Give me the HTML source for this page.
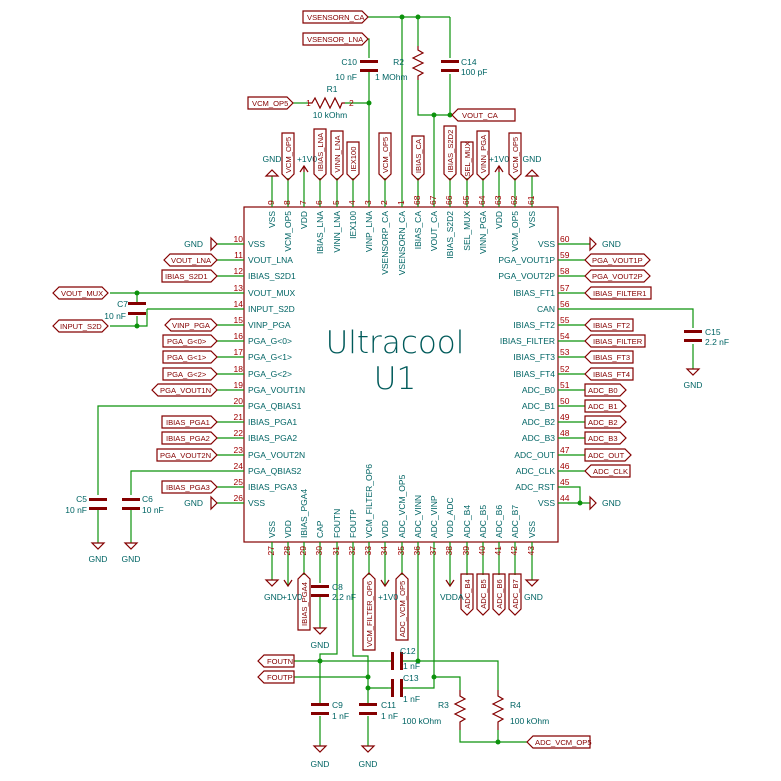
<!DOCTYPE html>
<html><head><meta charset="utf-8"><style>
html,body{margin:0;padding:0;background:#fff}
svg{display:block}
.w{stroke:#0c920c;stroke-width:1.2;fill:none}
.b{stroke:#840000;stroke-width:1.2;fill:none}
.f{fill:#840000}
text{font-family:"Liberation Sans",sans-serif;font-size:8.5px}
.t{fill:#006464}
.n{fill:#a00000}
.l{fill:#840000}
.l text,text.l{font-size:7.6px}
.j{fill:#0c920c}
</style></head><body>
<svg width="781" height="781" viewBox="0 0 781 781" xmlns="http://www.w3.org/2000/svg">
<rect x="0" y="0" width="781" height="781" fill="#fff"/>
<rect x="244" y="207" width="314" height="335" class="b"/>
<text x="395" y="353" text-anchor="middle" style="font-family:'DejaVu Sans',sans-serif;font-weight:200;font-size:31px;fill:#005a5a">Ultracool</text>
<text x="395" y="389" text-anchor="middle" style="font-family:'DejaVu Sans',sans-serif;font-weight:200;font-size:31px;fill:#005a5a">U1</text>

<g class="w">
<line x1="217" y1="244" x2="244" y2="244"/><line x1="217" y1="260" x2="244" y2="260"/><line x1="217" y1="276" x2="244" y2="276"/>
<line x1="110" y1="293" x2="244" y2="293"/><line x1="147" y1="309" x2="244" y2="309"/><line x1="217" y1="325" x2="244" y2="325"/>
<line x1="217" y1="341" x2="244" y2="341"/><line x1="217" y1="357" x2="244" y2="357"/><line x1="217" y1="374" x2="244" y2="374"/>
<line x1="217" y1="390" x2="244" y2="390"/><line x1="217" y1="422" x2="244" y2="422"/><line x1="217" y1="438" x2="244" y2="438"/>
<line x1="217" y1="455" x2="244" y2="455"/><line x1="217" y1="487" x2="244" y2="487"/><line x1="217" y1="503" x2="244" y2="503"/>
<polyline points="244,406 98,406 98,495"/><polyline points="244,471 131,471 131,495"/>
<polyline points="147,309 147,326 110,326"/>
<line x1="137" y1="293" x2="137" y2="303"/><line x1="137" y1="316" x2="137" y2="326"/>
<line x1="98" y1="510" x2="98" y2="543"/><line x1="131" y1="510" x2="131" y2="543"/>
</g>
<g class="n" text-anchor="end">
<text x="243" y="242">10</text><text x="243" y="258">11</text><text x="243" y="274">12</text><text x="243" y="291">13</text><text x="243" y="307">14</text><text x="243" y="323">15</text><text x="243" y="339">16</text><text x="243" y="355">17</text><text x="243" y="372">18</text><text x="243" y="388">19</text><text x="243" y="404">20</text><text x="243" y="420">21</text><text x="243" y="436">22</text><text x="243" y="453">23</text><text x="243" y="469">24</text><text x="243" y="485">25</text><text x="243" y="501">26</text>
</g>
<g class="t">
<text x="248" y="247">VSS</text><text x="248" y="263">VOUT_LNA</text><text x="248" y="279">IBIAS_S2D1</text><text x="248" y="296">VOUT_MUX</text><text x="248" y="312">INPUT_S2D</text><text x="248" y="328">VINP_PGA</text><text x="248" y="344">PGA_G&lt;0&gt;</text><text x="248" y="360">PGA_G&lt;1&gt;</text><text x="248" y="377">PGA_G&lt;2&gt;</text><text x="248" y="393">PGA_VOUT1N</text><text x="248" y="409">PGA_QBIAS1</text><text x="248" y="425">IBIAS_PGA1</text><text x="248" y="441">IBIAS_PGA2</text><text x="248" y="458">PGA_VOUT2N</text><text x="248" y="474">PGA_QBIAS2</text><text x="248" y="490">IBIAS_PGA3</text><text x="248" y="506">VSS</text>
</g>
<g class="b">
<polygon points="217,244 211,238 211,250"/><polygon points="217,503 211,497 211,509"/>
<polygon points="164,260 170,254 211,254 217,260 211,266 170,266"/>
<polygon points="162,270 211,270 217,276 211,282 162,282"/>
<polygon points="53,293 59,287 102,287 108,293 102,299 59,299"/>
<polygon points="53,326 59,320 102,320 108,326 102,332 59,332"/>
<polygon points="165,325 171,319 211,319 217,325 211,331 171,331"/>
<polygon points="163,335 211,335 217,341 211,347 163,347"/>
<polygon points="163,351 211,351 217,357 211,363 163,363"/>
<polygon points="163,368 211,368 217,374 211,380 163,380"/>
<polygon points="152,390 158,384 211,384 217,390 211,396 158,396"/>
<polygon points="162,416 211,416 217,422 211,428 162,428"/>
<polygon points="162,432 211,432 217,438 211,444 162,444"/>
<polygon points="157,449 211,449 217,455 211,461 157,461"/>
<polygon points="162,481 211,481 217,487 211,493 162,493"/>
</g>
<g class="l">
<text x="171" y="263">VOUT_LNA</text><text x="165" y="279">IBIAS_S2D1</text><text x="61" y="296">VOUT_MUX</text><text x="60" y="329">INPUT_S2D</text>
<text x="172" y="328">VINP_PGA</text><text x="167" y="344">PGA_G&lt;0&gt;</text><text x="167" y="360">PGA_G&lt;1&gt;</text><text x="167" y="377">PGA_G&lt;2&gt;</text>
<text x="160" y="393">PGA_VOUT1N</text><text x="166" y="425">IBIAS_PGA1</text><text x="166" y="441">IBIAS_PGA2</text><text x="160" y="458">PGA_VOUT2N</text><text x="166" y="490">IBIAS_PGA3</text>
</g>
<g class="t" text-anchor="end"><text x="203" y="247">GND</text><text x="203" y="506">GND</text></g>
<rect x="128" y="302" width="18" height="3" class="f"/><rect x="128" y="312" width="18" height="3" class="f"/>
<text x="128" y="307" class="t" text-anchor="end">C7</text><text x="126" y="319" class="t" text-anchor="end">10 nF</text>
<circle cx="137" cy="293" r="2.5" class="j"/><circle cx="137" cy="326" r="2.5" class="j"/>
<rect x="89" y="498" width="18" height="3" class="f"/><rect x="89" y="507" width="18" height="3" class="f"/>
<rect x="122" y="498" width="18" height="3" class="f"/><rect x="122" y="507" width="18" height="3" class="f"/>
<text x="87" y="502" class="t" text-anchor="end">C5</text><text x="87" y="513" class="t" text-anchor="end">10 nF</text>
<text x="142" y="502" class="t">C6</text><text x="142" y="513" class="t">10 nF</text>
<polygon points="92,543 104,543 98,549" class="b"/><polygon points="125,543 137,543 131,549" class="b"/>
<text x="98" y="562" class="t" text-anchor="middle">GND</text><text x="131" y="562" class="t" text-anchor="middle">GND</text>

<g class="w">
<line x1="558" y1="244" x2="590" y2="244"/><line x1="558" y1="260" x2="585" y2="260"/><line x1="558" y1="276" x2="585" y2="276"/>
<line x1="558" y1="293" x2="585" y2="293"/><polyline points="558,309 693,309 693,328"/><line x1="693" y1="344" x2="693" y2="369"/>
<line x1="558" y1="325" x2="585" y2="325"/><line x1="558" y1="341" x2="585" y2="341"/><line x1="558" y1="357" x2="585" y2="357"/>
<line x1="558" y1="374" x2="585" y2="374"/><line x1="558" y1="390" x2="585" y2="390"/><line x1="558" y1="406" x2="585" y2="406"/>
<line x1="558" y1="422" x2="585" y2="422"/><line x1="558" y1="438" x2="585" y2="438"/><line x1="558" y1="455" x2="585" y2="455"/>
<line x1="558" y1="471" x2="585" y2="471"/><polyline points="558,487 580,487 580,503"/><line x1="558" y1="503" x2="590" y2="503"/>
</g>
<circle cx="580" cy="503" r="2.5" class="j"/>
<g class="n">
<text x="560" y="242">60</text><text x="560" y="258">59</text><text x="560" y="274">58</text><text x="560" y="291">57</text><text x="560" y="307">56</text><text x="560" y="323">55</text><text x="560" y="339">54</text><text x="560" y="355">53</text><text x="560" y="372">52</text><text x="560" y="388">51</text><text x="560" y="404">50</text><text x="560" y="420">49</text><text x="560" y="436">48</text><text x="560" y="453">47</text><text x="560" y="469">46</text><text x="560" y="485">45</text><text x="560" y="501">44</text>
</g>
<g class="t" text-anchor="end">
<text x="555" y="247">VSS</text><text x="555" y="263">PGA_VOUT1P</text><text x="555" y="279">PGA_VOUT2P</text><text x="555" y="296">IBIAS_FT1</text><text x="555" y="312">CAN</text><text x="555" y="328">IBIAS_FT2</text><text x="555" y="344">IBIAS_FILTER</text><text x="555" y="360">IBIAS_FT3</text><text x="555" y="377">IBIAS_FT4</text><text x="555" y="393">ADC_B0</text><text x="555" y="409">ADC_B1</text><text x="555" y="425">ADC_B2</text><text x="555" y="441">ADC_B3</text><text x="555" y="458">ADC_OUT</text><text x="555" y="474">ADC_CLK</text><text x="555" y="490">ADC_RST</text><text x="555" y="506">VSS</text>
</g>
<g class="b">
<polygon points="590,238 596,244 590,250"/><polygon points="590,497 596,503 590,509"/>
<polygon points="585,260 591,254 644,254 650,260 644,266 591,266"/>
<polygon points="585,276 591,270 644,270 650,276 644,282 591,282"/>
<polygon points="585,293 591,287 651,287 651,299 591,299"/>
<polygon points="585,325 591,319 633,319 633,331 591,331"/>
<polygon points="585,341 591,335 645,335 645,347 591,347"/>
<polygon points="585,357 591,351 633,351 633,363 591,363"/>
<polygon points="585,374 591,368 633,368 633,380 591,380"/>
<polygon points="585,384 620,384 626,390 620,396 585,396"/>
<polygon points="585,400 620,400 626,406 620,412 585,412"/>
<polygon points="585,416 620,416 626,422 620,428 585,428"/>
<polygon points="585,432 620,432 626,438 620,444 585,444"/>
<polygon points="585,449 625,449 631,455 625,461 585,461"/>
<polygon points="585,471 591,465 630,465 630,477 591,477"/>
</g>
<g class="l">
<text x="592" y="263">PGA_VOUT1P</text><text x="592" y="279">PGA_VOUT2P</text><text x="593" y="296">IBIAS_FILTER1</text>
<text x="593" y="328">IBIAS_FT2</text><text x="593" y="344">IBIAS_FILTER</text><text x="593" y="360">IBIAS_FT3</text><text x="593" y="377">IBIAS_FT4</text>
<text x="588" y="393">ADC_B0</text><text x="588" y="409">ADC_B1</text><text x="588" y="425">ADC_B2</text><text x="588" y="441">ADC_B3</text><text x="588" y="458">ADC_OUT</text><text x="593" y="474">ADC_CLK</text>
</g>
<g class="t"><text x="602" y="247">GND</text><text x="602" y="506">GND</text></g>
<rect x="684" y="330" width="18" height="3" class="f"/><rect x="684" y="339" width="18" height="3" class="f"/>
<text x="705" y="335" class="t">C15</text><text x="705" y="345" class="t">2.2 nF</text>
<polygon points="687,369 699,369 693,375" class="b"/><text x="693" y="388" class="t" text-anchor="middle">GND</text>

<g class="w">
<line x1="272" y1="176" x2="272" y2="207"/><line x1="288" y1="178" x2="288" y2="207"/><line x1="304" y1="172" x2="304" y2="207"/>
<line x1="320" y1="178" x2="320" y2="207"/><line x1="337" y1="178" x2="337" y2="207"/><line x1="353" y1="178" x2="353" y2="207"/>
<line x1="369" y1="78" x2="369" y2="207"/><line x1="385" y1="178" x2="385" y2="207"/><line x1="402" y1="17" x2="402" y2="207"/>
<line x1="418" y1="178" x2="418" y2="207"/><line x1="434" y1="115" x2="434" y2="207"/><line x1="450" y1="178" x2="450" y2="207"/>
<line x1="467" y1="178" x2="467" y2="207"/><line x1="483" y1="178" x2="483" y2="207"/><line x1="499" y1="172" x2="499" y2="207"/>
<line x1="515" y1="178" x2="515" y2="207"/><line x1="532" y1="176" x2="532" y2="207"/>
</g>
<g class="n">
<text transform="translate(274,205) rotate(-90)">9</text><text transform="translate(290,205) rotate(-90)">8</text><text transform="translate(306,205) rotate(-90)">7</text><text transform="translate(322,205) rotate(-90)">6</text><text transform="translate(339,205) rotate(-90)">5</text><text transform="translate(355,205) rotate(-90)">4</text><text transform="translate(371,205) rotate(-90)">3</text><text transform="translate(387,205) rotate(-90)">2</text><text transform="translate(404,205) rotate(-90)">1</text><text transform="translate(420,205) rotate(-90)">68</text><text transform="translate(436,205) rotate(-90)">67</text><text transform="translate(452,205) rotate(-90)">66</text><text transform="translate(469,205) rotate(-90)">65</text><text transform="translate(485,205) rotate(-90)">64</text><text transform="translate(501,205) rotate(-90)">63</text><text transform="translate(517,205) rotate(-90)">62</text><text transform="translate(534,205) rotate(-90)">61</text>
</g>
<g class="t" text-anchor="end">
<text transform="translate(275,211) rotate(-90)">VSS</text><text transform="translate(291,211) rotate(-90)">VCM_OP5</text><text transform="translate(307,211) rotate(-90)">VDD</text><text transform="translate(323,211) rotate(-90)">IBIAS_LNA</text><text transform="translate(340,211) rotate(-90)">VINN_LNA</text><text transform="translate(356,211) rotate(-90)">IEX100</text><text transform="translate(372,211) rotate(-90)">VINP_LNA</text><text transform="translate(388,211) rotate(-90)">VSENSORP_CA</text><text transform="translate(405,211) rotate(-90)">VSENSORN_CA</text><text transform="translate(421,211) rotate(-90)">IBIAS_CA</text><text transform="translate(437,211) rotate(-90)">VOUT_CA</text><text transform="translate(453,211) rotate(-90)">IBIAS_S2D2</text><text transform="translate(470,211) rotate(-90)">SEL_MUX</text><text transform="translate(486,211) rotate(-90)">VINN_PGA</text><text transform="translate(502,211) rotate(-90)">VDD</text><text transform="translate(518,211) rotate(-90)">VCM_OP5</text><text transform="translate(535,211) rotate(-90)">VSS</text>
</g>
<g class="b">
<polygon points="266,176 278,176 272,170"/><polygon points="526,176 538,176 532,170"/>
<polyline points="300,172 304,166 308,172"/><line x1="304" y1="166" x2="304" y2="172"/>
<polyline points="495,172 499,166 503,172"/><line x1="499" y1="166" x2="499" y2="172"/>
</g>
<g class="t" text-anchor="middle"><text x="272" y="162">GND</text><text x="307" y="162">+1V0</text><text x="499" y="162">+1V0</text><text x="532" y="162">GND</text></g>
<g class="b">
<polygon points="282,133 294,133 294,174 288,180 282,174"/>
<polygon points="314,129 326,129 326,174 320,180 314,174"/>
<polygon points="331,131 343,131 343,174 337,180 331,174"/>
<polygon points="347,142 359,142 359,174 353,180 347,174"/>
<polygon points="379,133 391,133 391,174 385,180 379,174"/>
<polygon points="412,136 424,136 424,174 418,180 412,174"/>
<polygon points="444,126 456,126 456,174 450,180 444,174"/>
<polygon points="461,142 473,142 473,174 467,180 461,174"/>
<polygon points="477,131 489,131 489,174 483,180 477,174"/>
<polygon points="509,133 521,133 521,174 515,180 509,174"/>
</g>
<g class="l" text-anchor="middle">
<text transform="translate(291,155) rotate(-90)">VCM_OP5</text>
<text transform="translate(323,152) rotate(-90)">IBIAS_LNA</text>
<text transform="translate(340,154) rotate(-90)">VINN_LNA</text>
<text transform="translate(356,159) rotate(-90)">IEX100</text>
<text transform="translate(388,155) rotate(-90)">VCM_OP5</text>
<text transform="translate(421,156) rotate(-90)">IBIAS_CA</text>
<text transform="translate(453,151) rotate(-90)">IBIAS_S2D2</text>
<text transform="translate(470,159) rotate(-90)">SEL_MUX</text>
<text transform="translate(486,154) rotate(-90)">VINN_PGA</text>
<text transform="translate(518,155) rotate(-90)">VCM_OP5</text>
</g>

<g class="w">
<line x1="368" y1="17" x2="450" y2="17"/>
<polyline points="450,17 450,58"/><line x1="450" y1="74" x2="450" y2="115"/>
<line x1="418" y1="17" x2="418" y2="46"/><polyline points="418,80 418,115 450,115 452,115"/>
<polyline points="368,39 369,39 369,58"/>
<line x1="293" y1="103" x2="308" y2="103"/><line x1="345" y1="103" x2="369" y2="103"/>
</g>
<polyline class="b" points="418,46 418,50 423,53 413,58 423,63 413,68 423,73 418,76 418,80"/>
<polyline class="b" points="308,103 312,103 315,98 320,108 325,98 330,108 335,98 340,108 342,103 345,103"/>
<rect x="360" y="60" width="18" height="3" class="f"/><rect x="360" y="69" width="18" height="3" class="f"/>
<rect x="441" y="60" width="18" height="3" class="f"/><rect x="441" y="69" width="18" height="3" class="f"/>
<line x1="369" y1="72" x2="369" y2="78" class="w"/>
<circle cx="402" cy="17" r="2.5" class="j"/><circle cx="418" cy="17" r="2.5" class="j"/>
<circle cx="369" cy="103" r="2.5" class="j"/><circle cx="434" cy="115" r="2.5" class="j"/><circle cx="450" cy="115" r="2.5" class="j"/>
<g class="b">
<polygon points="303,11 362,11 368,17 362,23 303,23"/>
<polygon points="303,33 362,33 368,39 362,45 303,45"/>
<polygon points="248,97 287,97 293,103 287,109 248,109"/>
<polygon points="452,115 458,109 515,109 515,121 458,121"/>
</g>
<g class="l"><text x="307" y="20">VSENSORN_CA</text><text x="307" y="42">VSENSOR_LNA</text><text x="252" y="106">VCM_OP5</text><text x="462" y="118">VOUT_CA</text></g>
<g class="t">
<text x="357" y="65" text-anchor="end">C10</text><text x="357" y="80" text-anchor="end">10 nF</text>
<text x="404" y="65" text-anchor="end">R2</text><text x="375" y="80">1 MOhm</text>
<text x="461" y="65">C14</text><text x="461" y="75">100 pF</text>
<text x="332" y="92" text-anchor="middle">R1</text><text x="330" y="118" text-anchor="middle">10 kOhm</text>
</g>
<g class="n" style="font-size:7px">
<text x="306" y="106">1</text><text x="349" y="106">2</text>
</g>

<g class="w">
<line x1="272" y1="542" x2="272" y2="580"/><line x1="288" y1="542" x2="288" y2="585"/><line x1="304" y1="542" x2="304" y2="575"/>
<line x1="320" y1="542" x2="320" y2="583"/><line x1="320" y1="597" x2="320" y2="628"/>
<polyline points="337,542 337,654 320,654 320,703"/><line x1="320" y1="716" x2="320" y2="746"/>
<polyline points="353,542 353,656 368,656 368,703"/><line x1="368" y1="716" x2="368" y2="746"/>
<line x1="369" y1="542" x2="369" y2="575"/><line x1="385" y1="542" x2="385" y2="585"/><line x1="402" y1="542" x2="402" y2="575"/>
<polyline points="418,542 418,661"/><polyline points="434,542 434,688 412,688"/>
<line x1="450" y1="542" x2="450" y2="585"/>
<line x1="467" y1="542" x2="467" y2="575"/><line x1="483" y1="542" x2="483" y2="575"/><line x1="499" y1="542" x2="499" y2="575"/><line x1="515" y1="542" x2="515" y2="575"/>
<line x1="532" y1="542" x2="532" y2="580"/>
<line x1="294" y1="661" x2="388" y2="661"/><polyline points="404,661 498,661 498,690"/>
<line x1="294" y1="677" x2="368" y2="677"/><line x1="368" y1="688" x2="388" y2="688"/>
<polyline points="434,677 460,677 460,690"/>
<polyline points="460,730 460,742 527,742"/><line x1="498" y1="730" x2="498" y2="742"/>
</g>
<polyline class="b" points="460,690 460,696 465,699 455,704 465,709 455,714 465,719 460,722 460,730"/>
<polyline class="b" points="498,690 498,696 503,699 493,704 503,709 493,714 503,719 498,722 498,730"/>
<rect x="311" y="585" width="18" height="3" class="f"/><rect x="311" y="594" width="18" height="3" class="f"/>
<rect x="311" y="703" width="18" height="3" class="f"/><rect x="311" y="712" width="18" height="3" class="f"/>
<rect x="359" y="703" width="18" height="3" class="f"/><rect x="359" y="712" width="18" height="3" class="f"/>
<rect x="391" y="652" width="3" height="18" class="f"/><rect x="400" y="652" width="3" height="18" class="f"/>
<rect x="391" y="679" width="3" height="18" class="f"/><rect x="400" y="679" width="3" height="18" class="f"/>
<g class="w"><line x1="388" y1="661" x2="391" y2="661"/><line x1="403" y1="661" x2="404" y2="661"/><line x1="388" y1="688" x2="391" y2="688"/><line x1="403" y1="688" x2="412" y2="688"/></g>
<circle cx="320" cy="661" r="2.5" class="j"/><circle cx="418" cy="661" r="2.5" class="j"/>
<circle cx="368" cy="677" r="2.5" class="j"/><circle cx="368" cy="688" r="2.5" class="j"/>
<circle cx="434" cy="677" r="2.5" class="j"/><circle cx="498" cy="742" r="2.5" class="j"/>
<g class="b">
<polygon points="266,580 278,580 272,586"/><polygon points="526,580 538,580 532,586"/>
<polygon points="314,628 326,628 320,634"/>
<polygon points="314,746 326,746 320,752"/><polygon points="362,746 374,746 368,752"/>
<polyline points="284,580 288,586 292,580"/><polyline points="381,580 385,586 389,580"/><polyline points="446,580 450,586 454,580"/>
<polygon points="258,661 264,655 294,655 294,667 264,667"/>
<polygon points="258,677 264,671 294,671 294,683 264,683"/>
<polygon points="527,742 533,736 590,736 590,748 533,748"/>
<polygon points="304,573 310,579 310,630 298,630 298,579"/>
<polygon points="369,573 375,579 375,650 363,650 363,579"/>
<polygon points="402,573 408,579 408,640 396,640 396,579"/>
<polygon points="461,574 473,574 473,609 467,615 461,609"/>
<polygon points="477,574 489,574 489,609 483,615 477,609"/>
<polygon points="493,574 505,574 505,609 499,615 493,609"/>
<polygon points="509,574 521,574 521,609 515,615 509,609"/>
</g>
<g class="l" text-anchor="middle">
<text transform="translate(307,604) rotate(-90)">IBIAS_PGA4</text>
<text transform="translate(372,614) rotate(-90)">VCM_FILTER_OP6</text>
<text transform="translate(405,609) rotate(-90)">ADC_VCM_OP5</text>
<text transform="translate(470,594) rotate(-90)">ADC_B4</text>
<text transform="translate(486,594) rotate(-90)">ADC_B5</text>
<text transform="translate(502,594) rotate(-90)">ADC_B6</text>
<text transform="translate(518,594) rotate(-90)">ADC_B7</text>
</g>
<g class="l"><text x="267" y="664">FOUTN</text><text x="267" y="680">FOUTP</text><text x="535" y="745">ADC_VCM_OP5</text></g>
<g class="n" text-anchor="end">
<text transform="translate(274,546) rotate(-90)">27</text><text transform="translate(290,546) rotate(-90)">28</text><text transform="translate(306,546) rotate(-90)">29</text><text transform="translate(322,546) rotate(-90)">30</text><text transform="translate(339,546) rotate(-90)">31</text><text transform="translate(355,546) rotate(-90)">32</text><text transform="translate(371,546) rotate(-90)">33</text><text transform="translate(387,546) rotate(-90)">34</text><text transform="translate(404,546) rotate(-90)">35</text><text transform="translate(420,546) rotate(-90)">36</text><text transform="translate(436,546) rotate(-90)">37</text><text transform="translate(452,546) rotate(-90)">38</text><text transform="translate(469,546) rotate(-90)">39</text><text transform="translate(485,546) rotate(-90)">40</text><text transform="translate(501,546) rotate(-90)">41</text><text transform="translate(517,546) rotate(-90)">42</text><text transform="translate(534,546) rotate(-90)">43</text>
</g>
<g class="t">
<text transform="translate(275,538) rotate(-90)">VSS</text><text transform="translate(291,538) rotate(-90)">VDD</text><text transform="translate(307,538) rotate(-90)">IBIAS_PGA4</text><text transform="translate(323,538) rotate(-90)">CAP</text><text transform="translate(340,538) rotate(-90)">FOUTN</text><text transform="translate(356,538) rotate(-90)">FOUTP</text><text transform="translate(372,538) rotate(-90)">VCM_FILTER_OP6</text><text transform="translate(388,538) rotate(-90)">VDD</text><text transform="translate(405,538) rotate(-90)">ADC_VCM_OP5</text><text transform="translate(421,538) rotate(-90)">ADC_VINN</text><text transform="translate(437,538) rotate(-90)">ADC_VINP</text><text transform="translate(453,538) rotate(-90)">VDD_ADC</text><text transform="translate(470,538) rotate(-90)">ADC_B4</text><text transform="translate(486,538) rotate(-90)">ADC_B5</text><text transform="translate(502,538) rotate(-90)">ADC_B6</text><text transform="translate(518,538) rotate(-90)">ADC_B7</text><text transform="translate(535,538) rotate(-90)">VSS</text>
</g>
<g class="t">
<text x="264" y="600">GND</text><text x="282" y="600">+1V0</text>
<text x="332" y="590">C8</text><text x="332" y="600">2.2 nF</text>
<text x="320" y="648" text-anchor="middle">GND</text>
<text x="378" y="600">+1V0</text>
<text x="440" y="600">VDDA</text>
<text x="524" y="600">GND</text>
<text x="332" y="708">C9</text><text x="332" y="719">1 nF</text>
<text x="381" y="708">C11</text><text x="381" y="719">1 nF</text>
<text x="320" y="767" text-anchor="middle">GND</text><text x="368" y="767" text-anchor="middle">GND</text>
<text x="400" y="654">C12</text><text x="403" y="669">1 nF</text>
<text x="403" y="681">C13</text><text x="403" y="702">1 nF</text>
<text x="438" y="708">R3</text><text x="402" y="724">100 kOhm</text>
<text x="510" y="708">R4</text><text x="510" y="724">100 kOhm</text>
</g>
</svg>
</body></html>
